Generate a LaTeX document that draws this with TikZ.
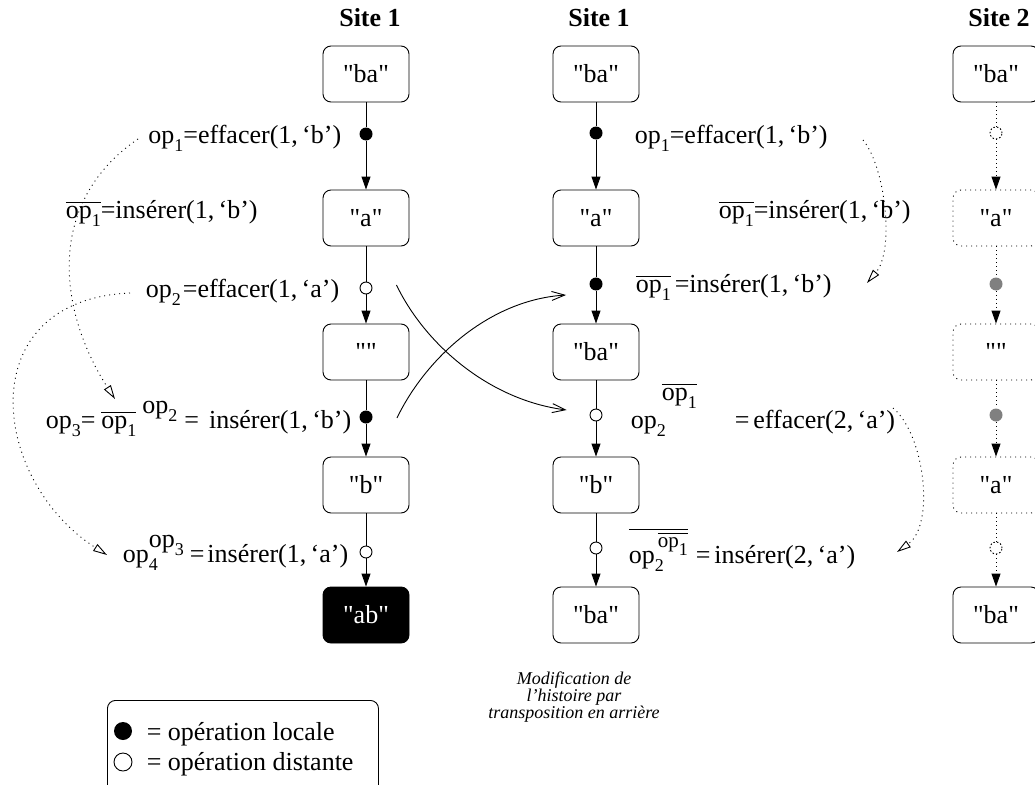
\documentclass[tikz,border=0pt]{standalone}
\usepackage{fontspec}
\setmainfont{Liberation Serif}[Ligatures=TeXOff]
\usetikzlibrary{arrows.meta,positioning}

\newcommand{\lo}[1]{\raisebox{-8pt}{\fontsize{18}{18}\selectfont #1}}
\newcommand{\opn}[1]{op\lo{#1}}
\newcommand{\ovl}[1]{\setbox0\hbox{#1}\rlap{\rule[\dimexpr\ht0+3pt\relax]{\wd0}{0.9pt}}\box0}
\newcommand{\opbar}[1]{\ovl{\opn{#1}}}

\tikzset{
  strbox/.style={draw, rounded corners=8pt, minimum width=86pt, minimum height=56pt, inner sep=0pt},
  ghost/.style={strbox, dash pattern=on 1pt off 4pt},
  local/.style={circle, fill, inner sep=0pt, minimum size=13pt},
  remote/.style={circle, draw, fill=white, inner sep=0pt, minimum size=12pt},
  title/.style={anchor=base, font=\fontsize{26}{30}\selectfont\bfseries},
  seq/.style={-{Triangle[length=13pt,width=9pt]}},
  hist/.style={dash pattern=on 1pt off 4pt, -{Triangle[open,length=14pt,width=8pt]}},
  swap/.style={-{Straight Barb[length=13pt,width=9pt]}}
}

\begin{document}
\begin{tikzpicture}[x=1pt, y=-1pt, line width=0.9pt, font=\fontsize{26}{30}\selectfont]
\useasboundingbox (0,0) rectangle (1035,784);

% Site 1, history as executed
\node[title] (t1) at (370,27) {Site 1};
\node[strbox] (a0) at (366,74) {"ba"};
\node[local]  (p1) at (366,134) {};
\node[strbox] (a1) at (366,218) {"a"};
\node[remote] (p2) at (366,288) {};
\node[strbox] (a2) at (366,352) {""};
\node[local]  (p3) at (366,417) {};
\node[strbox] (a3) at (366,485) {"b"};
\node[remote] (p4) at (366,552) {};
\node[strbox, fill=black, text=white] (a4) at (366,615) {"ab"};
\foreach \u/\d/\v in {a0/p1/a1, a1/p2/a2, a2/p3/a3, a3/p4/a4} {
  \draw (\u) -- (\d);
  \draw[seq] (\d) -- (\v);
}

\node[anchor=base east] (l1) at (345,143) {\opn{1}=effacer(1,\,‘b’)};
\node[anchor=base west] (l2) at (62,218) {\opbar{1}=insérer(1,\,‘b’)};
\node[anchor=base east] (l3) at (343,297) {\opn{2}\kern2pt=effacer(1,\,‘a’)};
\node[anchor=base west] (l4) at (42,428) {\opn{3}=\kern6pt\opbar{1}\kern6pt\raisebox{15pt}{\opn{2}}\kern7pt=\kern10pt insérer(1,\,‘b’)};
\node[anchor=base east] (l5) at (352,562) {op\rlap{\lo{4}}\raisebox{15pt}{\opn{3}}\kern6pt=\kern3pt insérer(1,\,‘a’)};

% Site 1, history after backward transposition
\node[title] (t2) at (599,27) {Site 1};
\node[strbox] (b0) at (596,74) {"ba"};
\node[local]  (q1) at (596,133) {};
\node[strbox] (b1) at (596,218) {"a"};
\node[local]  (q2) at (596,284) {};
\node[strbox] (b2) at (596,352) {"ba"};
\node[remote] (q3) at (596,415) {};
\node[strbox] (b3) at (596,485) {"b"};
\node[remote] (q4) at (596,548) {};
\node[strbox] (b4) at (596,615) {"ba"};
\foreach \u/\d/\v in {b0/q1/b1, b1/q2/b2, b2/q3/b3, b3/q4/b4} {
  \draw (\u) -- (\d);
  \draw[seq] (\d) -- (\v);
}

\node[anchor=base west] (m1) at (631,143) {\opn{1}=effacer(1,\,‘b’)};
\node[anchor=base west] (m2) at (715,218) {\opbar{1}=insérer(1,\,‘b’)};
\node[anchor=base west] (m3) at (632,292) {\opbar{1}\kern4pt=insérer(1,\,‘b’)};
\node[anchor=base west] (m4) at (627,428) {op\rlap{\lo{2}}\kern5pt\raisebox{28pt}{\opbar{1}}\kern38pt=\kern4pt effacer(2,\,‘a’)};
\node[anchor=base west] (m5) at (625,563) {\ovl{op\rlap{\lo{2}}\kern3pt\raisebox{16pt}{\fontsize{21}{21}\selectfont\opbar{1}}}\kern8pt=\kern4pt insérer(2,\,‘a’)};

% Site 2
\node[title] (t3) at (999,27) {Site 2};
\node[strbox] (c0) at (996,74) {"ba"};
\node[remote, dash pattern=on 1.5pt off 2pt] (r1) at (996,133) {};
\node[ghost] (c1) at (996,218) {"a"};
\node[local, fill=gray] (r2) at (996,284) {};
\node[ghost] (c2) at (996,352) {""};
\node[local, fill=gray] (r3) at (996,415) {};
\node[ghost] (c3) at (996,485) {"a"};
\node[remote, dash pattern=on 1.5pt off 2pt] (r4) at (996,548) {};
\node[strbox] (c4) at (996,615) {"ba"};
\foreach \u/\d/\v in {c0/r1/c1, c1/r2/c2, c2/r3/c3, c3/r4/c4} {
  \draw[dash pattern=on 1pt off 3pt] (\u) -- (\d);
  \draw[seq, dash pattern=on 1pt off 3pt] (\d) -- (\v);
}

% undo / redo paths
\coordinate (h1) at (138,139);
\coordinate (h2) at (115,399);
\coordinate (h3) at (130,293);
\coordinate (h4) at (107,555);
\coordinate (k1) at (863,140);
\coordinate (k2) at (867,283);
\coordinate (k3) at (893,408);
\coordinate (k4) at (897,552);
\draw[hist] (h1) .. controls +(-95,65) and +(-55,-85) .. (h2);
\draw[hist] (h3) .. controls +(-160,7) and +(-117,-75) .. (h4);
\draw[hist] (k1) .. controls +(22,26) and +(28,-33) .. (k2);
\draw[hist] (k3) .. controls +(32,27) and +(38,-27) .. (k4);

% transposition
\draw[swap] ([shift={(24,-3)}]p2.east) .. controls +(29,60) and +(-77,-10) .. ([shift={(-23,-5)}]q3.west);
\draw[swap] ([shift={(24,1)}]p3.east) .. controls +(29,-60) and +(-77,5) .. ([shift={(-23,11)}]q2.west);

\node[align=center, font=\fontsize{18}{17}\selectfont\itshape] (cap) at (574,697) {Modification de\\l’histoire par\\transposition en arrière};

% legend
\node[draw, rounded corners=8pt, minimum width=271pt, minimum height=95pt, anchor=north west] (key) at (107,700) {};
\node[local, minimum size=18pt] (kl) at (123,731) {};
\node[remote, minimum size=18pt] (kr) at (123,762) {};
\node[anchor=base west] (kt1) at (143,740) {= opération locale};
\node[anchor=base west] (kt2) at (143,770) {= opération distante};
\end{tikzpicture}
\end{document}
